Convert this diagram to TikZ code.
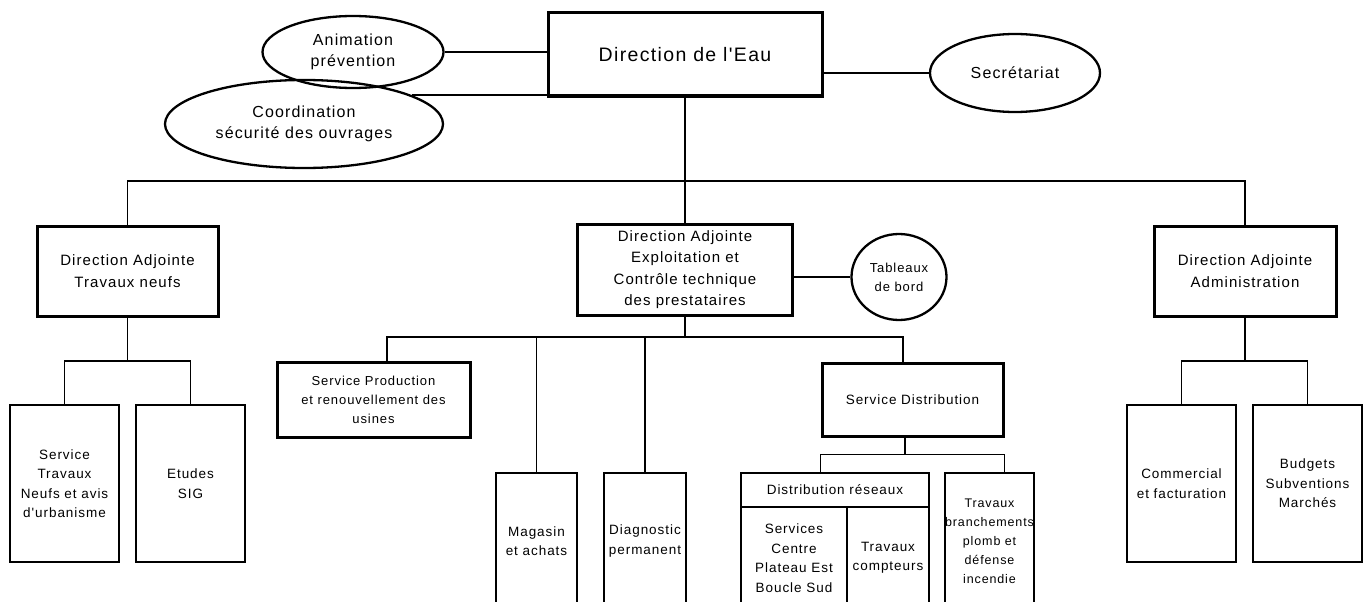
\documentclass[tikz,border=0pt]{standalone}
\usepackage{fontspec}
\usetikzlibrary{shapes.geometric}
\newfontfamily\lsans{Liberation Sans}[LetterSpace=7]
\newcommand{\sztitle}{\lsans\fontsize{19.5}{24}\selectfont}
\newcommand{\szoval}{\lsans\fontsize{16}{21.5}\selectfont}
\newcommand{\szda}{\lsans\fontsize{15}{21.5}\selectfont}
\newcommand{\szsub}{\lsans\fontsize{13.5}{19.5}\selectfont}
\newcommand{\szsm}{\lsans\fontsize{13}{19}\selectfont}
\begin{document}
\begin{tikzpicture}[x=1pt,y=-1pt,
  thickbox/.style={draw,line width=3pt,inner sep=0pt,align=center,font=\szda},
  thinbox/.style={draw,line width=1.3pt,inner sep=0pt,align=center,font=\szsub},
  oval/.style={ellipse,draw,line width=2.3pt,inner sep=0pt,align=center,font=\szoval},
  conn/.style={line width=1.7pt}]
\useasboundingbox (0,0) rectangle (1366,602);
\clip (0,0) rectangle (1366,602);

% top level
\node[thickbox,font=\sztitle,minimum width=274pt,minimum height=83pt] (eau) at (685,54.5) {Direction de l'Eau};
\node[oval,minimum width=181pt,minimum height=72pt] (anim) at (353,52) {Animation\\prévention};
\node[oval,minimum width=278pt,minimum height=88pt] (coord) at (304,124) {Coordination\\sécurité des ouvrages};
\node[oval,minimum width=170pt,minimum height=78pt] (sec) at (1015,73) {Secrétariat};

% second level
\node[thickbox,minimum width=181pt,minimum height=90pt] (datn) at (127.5,271) {Direction Adjointe\\Travaux neufs};
\node[thickbox,minimum width=215pt,minimum height=91pt] (daexp) at (685,269.5) {Direction Adjointe\\Exploitation et\\Contrôle technique\\des prestataires};
\node[oval,font=\szsm,minimum width=95pt,minimum height=86pt] (tab) at (899,277) {Tableaux\\de bord};
\node[thickbox,minimum width=182pt,minimum height=90pt] (daadm) at (1245,271) {Direction Adjointe\\Administration};

% left branch
\node[thinbox,minimum width=109pt,minimum height=157pt] (stn) at (64.5,483.5) {Service\\Travaux\\Neufs et avis\\d'urbanisme};
\node[thinbox,minimum width=109pt,minimum height=157pt] (sig) at (190.5,483.5) {Etudes\\SIG};

% right branch
\node[thinbox,minimum width=109pt,minimum height=157pt] (com) at (1181.5,483.5) {Commercial\\et facturation};
\node[thinbox,minimum width=109pt,minimum height=157pt] (bud) at (1307.5,483.5) {Budgets\\Subventions\\Marchés};

% middle branch
\node[thickbox,font=\szsm,minimum width=193pt,minimum height=75pt] (sprod) at (373.5,399.5) {Service Production\\et renouvellement des\\usines};
\node[thinbox,minimum width=81pt,minimum height=136pt] (mag) at (536.5,541) {Magasin\\et achats};
\node[thinbox,minimum width=82pt,minimum height=136pt] (diag) at (645,541) {Diagnostic\\permanent};
\node[thickbox,font=\szsub,minimum width=181pt,minimum height=73pt] (sdist) at (912.5,399.5) {Service Distribution};

\node[thinbox,minimum width=188pt,minimum height=34pt] (dres) at (835,490) {Distribution réseaux};
\node[thinbox,minimum width=106pt,minimum height=102pt] (scen) at (794,558) {Services\\Centre\\Plateau Est\\Boucle Sud};
\node[thinbox,minimum width=82pt,minimum height=102pt] (tcomp) at (888,558) {Travaux\\compteurs};
\node[thinbox,font=\lsans\fontsize{12.5}{19}\selectfont,minimum width=83pt,minimum height=136pt] (tbr) at (989.5,541) {Travaux\\branchements\\plomb et\\défense\\incendie};

% connectors
\coordinate (bar1) at (685,181);
\coordinate (bl) at (127.5,361);
\coordinate (br) at (1245,361);
\coordinate (bm) at (685,337);

\draw[conn] (anim.east) -- (anim.east -| eau.west);
\draw[conn] (coord.15) -- (coord.15 -| eau.west);
\draw[conn] (sec.west -| eau.east) -- (sec.west);
\draw[conn] (eau.south) -- (bar1);
\draw[conn] (datn.north) |- (bar1) -| (daadm.north);
\draw[conn] (bar1) -- (daexp.north);
\draw[conn] (tab.west -| daexp.east) -- (tab.west);

\draw[conn] (datn.south) -- (bl);
\draw[conn] (stn.north) |- (bl) -| (sig.north);
\draw[conn] (daadm.south) -- (br);
\draw[conn] (com.north) |- (br) -| (bud.north);

\draw[conn] (daexp.south) -- (bm);
\draw[conn] ([xshift=13.5pt]sprod.north) |- (bm) -| ([xshift=-9.5pt]sdist.north);
\draw[conn] (mag.north) -- (mag.north |- bm);
\draw[conn] (diag.north) -- (diag.north |- bm);

\draw[conn] ([xshift=-7.5pt]sdist.south) -- ++(0,17) coordinate (bd);
\draw[conn] (dres.north -| sdist.west) |- (bd) -| (tbr.north -| sdist.east);
\end{tikzpicture}
\end{document}
